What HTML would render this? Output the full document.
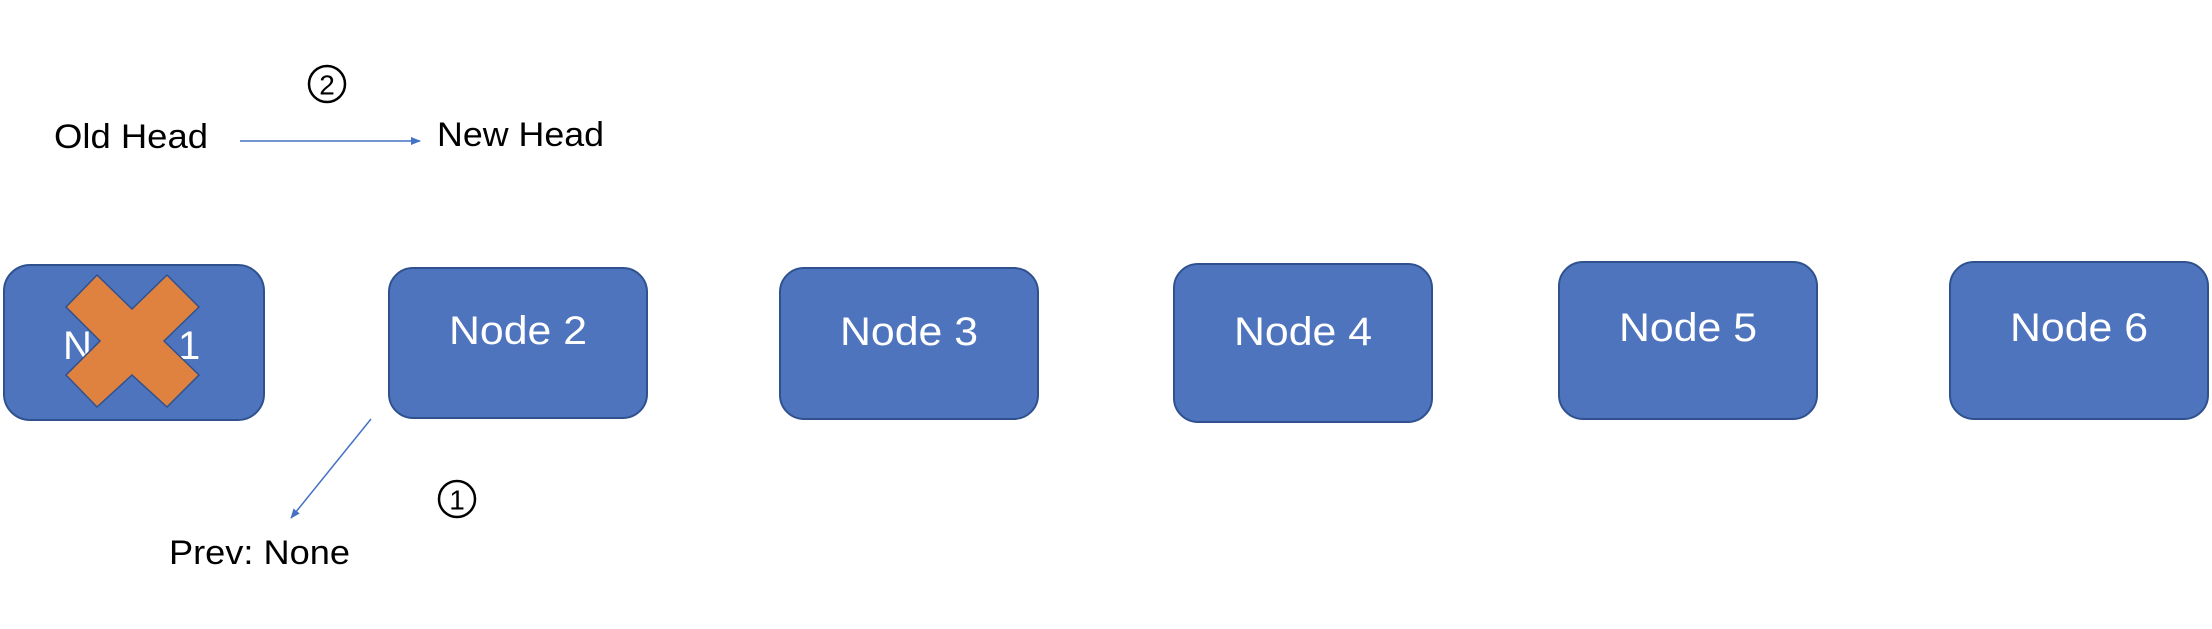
<!DOCTYPE html>
<html><head><style>html,body{margin:0;padding:0;background:#fff;}</style></head>
<body>
<svg width="2212" height="624" xmlns="http://www.w3.org/2000/svg" font-family="Liberation Sans, sans-serif">
<defs><marker id="a" markerWidth="10" markerHeight="8" refX="9" refY="4" orient="auto" markerUnits="userSpaceOnUse"><path d="M0,0 L10,4 L0,8 z" fill="#4472C4"/></marker></defs>
<g fill="#4E74BE" stroke="#2F528F" stroke-width="2">
<rect x="4" y="265" width="260" height="155" rx="26"/>
<rect x="389" y="268" width="258" height="150" rx="24"/>
<rect x="780" y="268" width="258" height="151" rx="24"/>
<rect x="1174" y="264" width="258" height="158" rx="24"/>
<rect x="1559" y="262" width="258" height="157" rx="24"/>
<rect x="1950" y="262" width="258" height="157" rx="24"/>
</g>
<g fill="#fff" font-size="40" text-anchor="middle" dominant-baseline="central">
<text x="63" y="346" text-anchor="start">N</text>
<text x="178" y="346" text-anchor="start">1</text>
<text x="518" y="331" textLength="138" lengthAdjust="spacingAndGlyphs">Node 2</text>
<text x="909" y="332" textLength="138" lengthAdjust="spacingAndGlyphs">Node 3</text>
<text x="1303" y="332" textLength="138" lengthAdjust="spacingAndGlyphs">Node 4</text>
<text x="1688" y="328" textLength="138" lengthAdjust="spacingAndGlyphs">Node 5</text>
<text x="2079" y="328" textLength="138" lengthAdjust="spacingAndGlyphs">Node 6</text>
</g>
<polygon points="97,275 132,309 167,275 199,307 164,341 199,375 167,407 132,375 97,407 66,375 100,341 66,307" fill="#E0823F" stroke="#2F528F" stroke-width="1.5"/>
<g font-size="34" fill="#000" dominant-baseline="central">
<text x="54" y="137" textLength="154" lengthAdjust="spacingAndGlyphs">Old Head</text>
<text x="437" y="135" textLength="167" lengthAdjust="spacingAndGlyphs">New Head</text>
<text x="169" y="553" textLength="181" lengthAdjust="spacingAndGlyphs">Prev: None</text>
</g>
<line x1="240" y1="141" x2="420" y2="141" stroke="#4472C4" stroke-width="1.5" marker-end="url(#a)"/>
<line x1="371" y1="419" x2="291" y2="518" stroke="#4472C4" stroke-width="1.5" marker-end="url(#a)"/>
<g fill="none" stroke="#000" stroke-width="2.5"><circle cx="327" cy="84" r="18"/><circle cx="457" cy="499" r="18"/></g>
<g font-size="28" text-anchor="middle" dominant-baseline="central" fill="#000">
<text x="327" y="85">2</text><text x="457" y="500">1</text>
</g>
</svg>
</body></html>
